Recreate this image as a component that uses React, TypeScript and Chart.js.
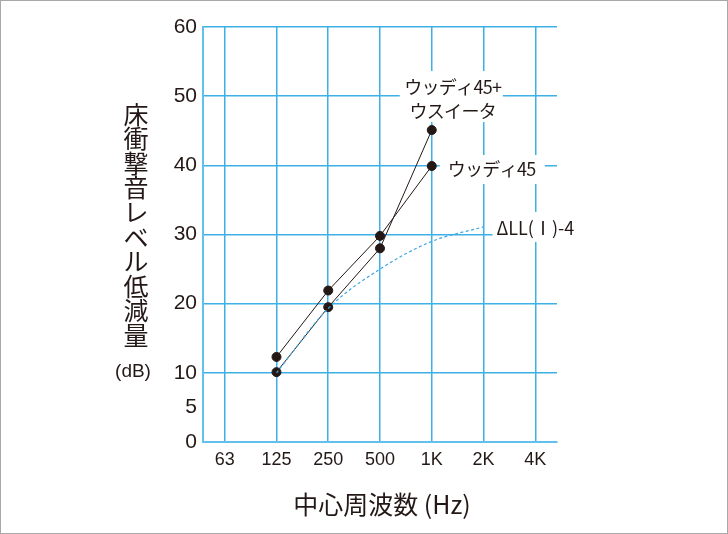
import { useEffect, useRef } from 'react';
import { Chart, registerables } from 'chart.js';

Chart.register(...registerables);

const freqLabels = ['63', '125', '250', '500', '1K', '2K', '4K'];
const yTickValues = [0, 5, 10, 20, 30, 40, 50, 60];

// 125Hz〜1kHz
const usuitaValues = [10.1, 19.5, 28.0, 45.1];
const woodyValues = [12.3, 21.9, 29.8, 39.9];
// 125Hz〜2kHz
const dllValues = [10.0, 19.3, 25.0, 29.0, 31.1];

const yTitleChars = ['床', '衝', '撃', '音', 'レ', 'ベ', 'ル', '低', '減', '量'];
const yUnit = '(dB)';
const xTitle = '中心周波数 (Hz)';
const usuitaLabel = ['ウッディ45+', 'ウスイータ'];
const woodyLabel = 'ウッディ45';
const dllLabel = 'ΔLL(Ⅰ)-4';

const INK = '#231815';
const GRID = '#3fb0e6';
const JP = '"Noto Sans CJK JP", "Noto Sans", sans-serif';
const NUM = '"Liberation Sans", Arial, sans-serif';

const toPoints = (vals: number[]) => vals.map((v, i) => ({ x: i + 1, y: v }));

const decorPlugin = {
  id: 'decor',
  beforeDraw(chart: any) {
    const { ctx, width, height } = chart;
    ctx.save();
    ctx.strokeStyle = '#a8a8a8';
    ctx.lineWidth = 1;
    ctx.strokeRect(0.5, 0.5, width - 1, height - 1);
    ctx.restore();
  },
  beforeDatasetsDraw(chart: any) {
    const { ctx } = chart;
    const xs = chart.scales.x;
    const ys = chart.scales.y;
    const p1 = { x: xs.getPixelForValue(4), y: ys.getPixelForValue(usuitaValues[3]) };
    const p2 = { x: xs.getPixelForValue(4), y: ys.getPixelForValue(woodyValues[3]) };
    const p3 = { x: xs.getPixelForValue(5), y: ys.getPixelForValue(dllValues[4]) };
    ctx.save();
    ctx.fillStyle = '#ffffff';
    ctx.fillRect(p1.x - 32, p1.y - 59, 103, 51);
    ctx.fillRect(p2.x + 8, p2.y - 11, 105, 29);
    ctx.fillRect(p3.x + 9, p3.y - 15, 95, 30);
    ctx.restore();
  },
  afterDatasetsDraw(chart: any) {
    const { ctx } = chart;
    const xs = chart.scales.x;
    const ys = chart.scales.y;
    const p1 = { x: xs.getPixelForValue(4), y: ys.getPixelForValue(usuitaValues[3]) };
    const p2 = { x: xs.getPixelForValue(4), y: ys.getPixelForValue(woodyValues[3]) };
    const p3 = { x: xs.getPixelForValue(5), y: ys.getPixelForValue(dllValues[4]) };
    ctx.save();
    ctx.fillStyle = INK;
    ctx.font = `18px ${JP}`;
    ctx.letterSpacing = '-0.7px';
    ctx.textBaseline = 'middle';
    ctx.textAlign = 'center';
    ctx.fillText(usuitaLabel[0], p1.x + 21, p1.y - 43);
    ctx.fillText(usuitaLabel[1], p1.x + 21, p1.y - 19);
    ctx.textAlign = 'left';
    ctx.fillText(woodyLabel, p2.x + 16, p2.y + 3);
    ctx.letterSpacing = '0px';
    ctx.fillText(dllLabel, p3.x + 13, p3.y + 1);
    ctx.restore();
  },
  afterDraw(chart: any) {
    const { ctx } = chart;
    ctx.save();
    ctx.fillStyle = INK;
    ctx.textAlign = 'center';
    ctx.textBaseline = 'middle';
    ctx.font = `25px ${JP}`;
    yTitleChars.forEach((c, i) => {
      ctx.fillText(c, 136, 114 + i * 24.6);
    });
    ctx.font = `19px ${NUM}`;
    ctx.fillText(yUnit, 133, 372);
    ctx.font = `25px ${JP}`;
    ctx.fillText(xTitle, 382, 504);
    ctx.restore();
  },
};

export default function App() {
  const chartRef = useRef<HTMLCanvasElement>(null);
  const chartInstance = useRef<Chart | null>(null);

  useEffect(() => {
    document.body.style.margin = '0';
    if (!chartRef.current) return;

    if (chartInstance.current) {
      chartInstance.current.destroy();
    }

    const ctx = chartRef.current.getContext('2d');
    if (!ctx) return;

    chartInstance.current = new Chart(ctx, {
      type: 'line',
      data: {
        datasets: [
          {
            label: 'ΔLL(I)-4',
            data: toPoints(dllValues),
            borderColor: '#3aa6e0',
            borderWidth: 1.2,
            borderDash: [3, 2.5],
            pointRadius: 0,
            cubicInterpolationMode: 'monotone',
            fill: false,
          },
          {
            label: 'ウッディ45+ウスイータ',
            data: toPoints(usuitaValues),
            borderColor: INK,
            borderWidth: 1,
            pointRadius: 4.5,
            pointBackgroundColor: INK,
            pointBorderColor: INK,
            tension: 0,
            fill: false,
          },
          {
            label: 'ウッディ45',
            data: toPoints(woodyValues),
            borderColor: INK,
            borderWidth: 1,
            pointRadius: 4.5,
            pointBackgroundColor: INK,
            pointBorderColor: INK,
            tension: 0,
            fill: false,
          },
        ],
      },
      options: {
        responsive: true,
        maintainAspectRatio: false,
        animation: false,
        layout: { padding: { top: 27, right: 171, left: 0, bottom: 0 } },
        plugins: {
          legend: { display: false },
          tooltip: { enabled: false },
        },
        scales: {
          x: {
            type: 'linear',
            min: -0.42,
            max: 6.42,
            afterBuildTicks: (scale: any) => {
              scale.ticks = freqLabels.map((_, i) => ({ value: i }));
            },
            afterFit: (scale: any) => {
              scale.height = 92;
            },
            ticks: {
              callback: (v: any) => freqLabels[v] ?? '',
              color: INK,
              font: { family: NUM, size: 18 },
              padding: 7,
              maxRotation: 0,
            },
            grid: { color: GRID, lineWidth: 1.5, drawTicks: false },
            border: { color: '#62c0ec', width: 2 },
          },
          y: {
            min: 0,
            max: 60,
            afterBuildTicks: (scale: any) => {
              scale.ticks = yTickValues.map((v) => ({ value: v }));
            },
            afterFit: (scale: any) => {
              scale.width = 203;
            },
            ticks: {
              color: INK,
              font: { family: NUM, size: 21 },
              padding: 6,
            },
            grid: {
              color: (c: any) => (c.tick && c.tick.value === 5 ? 'rgba(0,0,0,0)' : GRID),
              lineWidth: 1.5,
              drawTicks: false,
            },
            border: { color: '#62c0ec', width: 2 },
          },
        },
      },
      plugins: [decorPlugin],
    });

    return () => {
      if (chartInstance.current) {
        chartInstance.current.destroy();
        chartInstance.current = null;
      }
    };
  }, []);

  return (
    <div style={{ position: 'relative', width: 728, height: 534, background: '#ffffff' }}>
      <canvas ref={chartRef} />
    </div>
  );
}
